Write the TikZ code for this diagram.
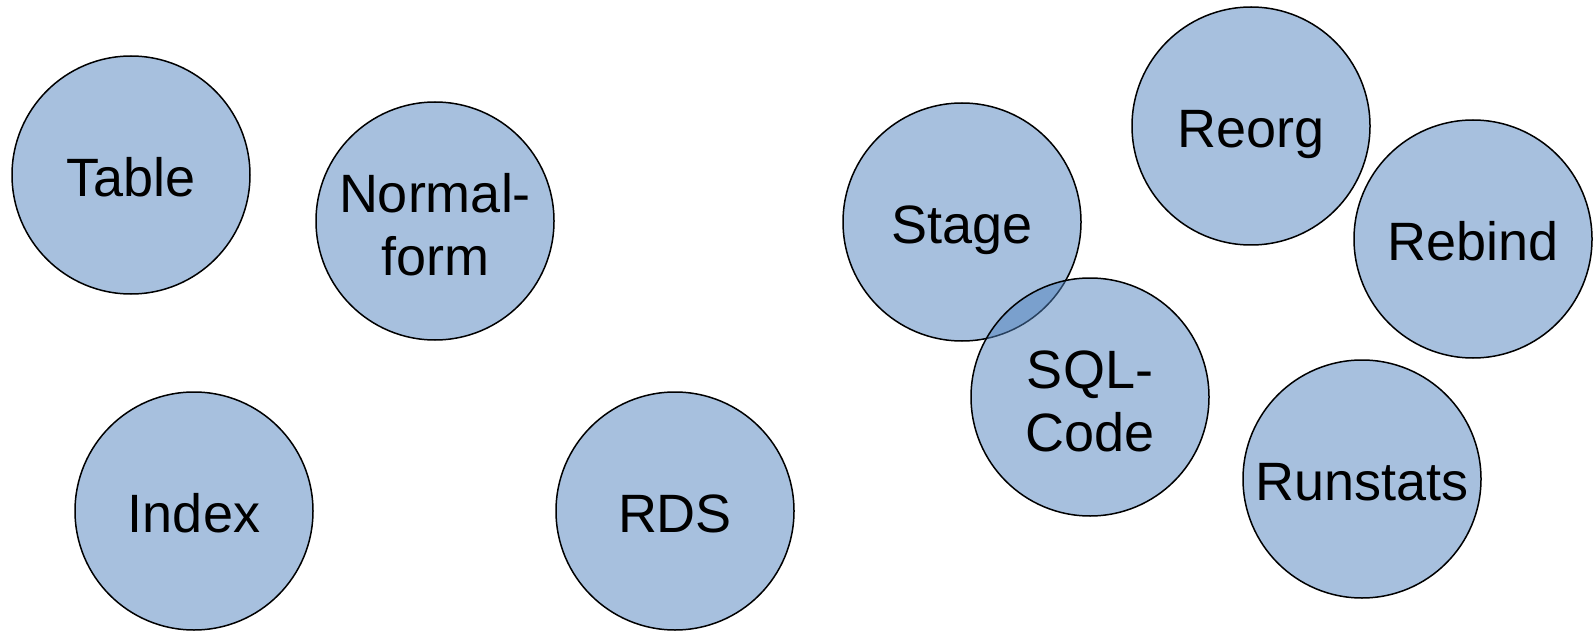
\documentclass[tikz,border=0pt]{standalone}
\usepackage{fontspec}
\setmainfont{Liberation Sans}
\usetikzlibrary{positioning}

\definecolor{topicblue}{HTML}{4F81BD}
\newcommand{\topstrut}[1]{\rule[-11pt]{0pt}{#1}}

\begin{document}
\begin{tikzpicture}[x=1pt,y=-1pt]
    \tikzset{topic/.style = {circle, draw=black, line width=1.5pt,
                            fill=topicblue, fill opacity=0.5, text opacity=1,
                            minimum size=238pt, inner sep=0pt, align=center,
                            font=\fontsize{54}{63}\selectfont,
                            execute at begin node={\topstrut{65pt}}}}
    \tikzset{twoline/.style = {execute at begin node={\topstrut{131pt}}}}

    \useasboundingbox (0,0) rectangle (1593,631);

    \node (table) [topic] at (131,175) {Table};
    \node (normal) [topic, twoline] at (435,221) {Normal-\\form};
    \node (index) [topic] at (194,511) {Index};
    \node (rds) [topic] at (675,511) {RDS};
    \node (stage) [topic] at (962,222) {Stage};
    \node (sqlcode) [topic, twoline] at (1090,397) {SQL-\\Code};
    \node (reorg) [topic] at (1251,126) {Reorg};
    \node (rebind) [topic] at (1473,239) {Rebind};
    \node (runstats) [topic] at (1362,479) {Runstats};

\end{tikzpicture}
\end{document}
